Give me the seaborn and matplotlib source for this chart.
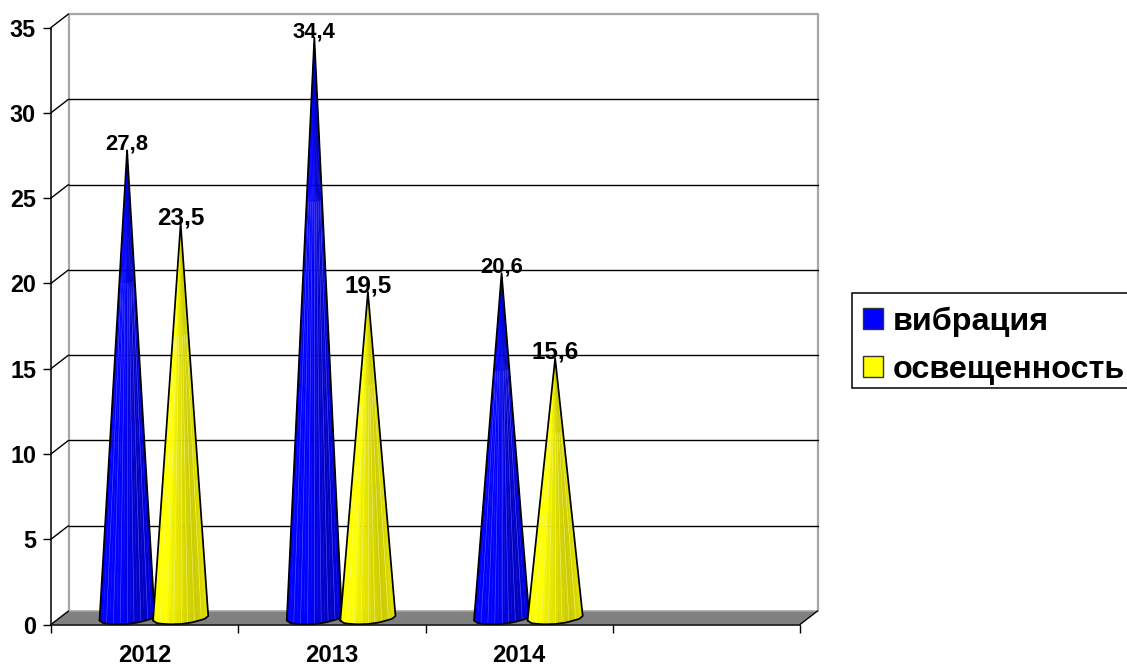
import numpy as np
import pandas as pd
import matplotlib
matplotlib.use("Agg")
import matplotlib.pyplot as plt
from matplotlib.patches import Patch, Rectangle
import seaborn as sns

years = ["2012", "2013", "2014"]
vibration = [27.8, 34.4, 20.6]
lighting = [23.5, 19.5, 15.6]
series_names = ["вибрация", "освещенность"]
y_ticks = [0, 5, 10, 15, 20, 25, 30, 35]

df = pd.DataFrame({
    "year": years * 2,
    "value": vibration + lighting,
    "series": [series_names[0]] * 3 + [series_names[1]] * 3,
})

sns.set_theme(style="white")
plt.rcParams["font.family"] = ["Liberation Sans", "DejaVu Sans"]
plt.rcParams["font.weight"] = "bold"

W, H = 1127, 666
fig = plt.figure(figsize=(W / 100, H / 100), dpi=100)
ax = fig.add_axes([51 / W, 1 - 624.5 / H, 749 / W, 597 / H])

# bars only give the positions, the cones get drawn over them
sns.barplot(data=df, x="year", y="value", hue="series", order=years + [""],
            hue_order=series_names, width=0.572, gap=0, legend=False, ax=ax,
            palette=["#0000ff", "#ffff00"])
ax.set_xlim(-0.5, 3.5)
ax.set_ylim(0, 35)

px_x = 4 / 749          # one pixel in x data units
px_y = 35 / 597         # one pixel in y data units
dx = 17.5 * px_x        # depth of the fake 3d box
dy = 13.5 * px_y

# walls and floor
ax.fill([-0.5, 3.5, 3.5 + dx, -0.5 + dx], [0, 0, dy, dy], color="#808080",
        lw=0, clip_on=False, zorder=1)
wall = "#a6a6a6"
ax.plot([-0.5 + dx, -0.5 + dx, 3.5 + dx, 3.5 + dx], [dy, 35 + dy, 35 + dy, dy],
        color=wall, lw=1.6, clip_on=False, zorder=1)
ax.plot([-0.5 + dx, 3.5 + dx], [dy, dy], color=wall, lw=1.2, clip_on=False, zorder=1)
for t in y_ticks:
    ax.plot([-0.5, -0.5 + dx], [t, t + dy], color="black", lw=1, clip_on=False, zorder=2)
    if 0 < t < 35:
        ax.plot([-0.5 + dx, 3.5 + dx], [t + dy, t + dy], color="black", lw=1,
                clip_on=False, zorder=2)
ax.plot([3.5, 3.5 + dx], [0, dy], color="black", lw=1, clip_on=False, zorder=2)

# px above the axis along the base of a cone, left to right
base_t = [0, 0.03, 0.1, 0.3, 0.5, 0.7, 0.9, 0.98, 1.0]
base_up = [4, 2, 1, 0.2, 0.5, 2, 5, 6.5, 8.5]
shift = 9.25 * px_x


def draw_cone(bar, shades, seam, z, label_size):
    cx = bar.get_x() + bar.get_width() / 2 + shift
    half = bar.get_width() * 0.515
    top = bar.get_height()
    ts = np.linspace(0, 1, len(shades) + 1)
    xs = cx - half + 2 * half * ts
    ys = np.interp(ts, base_t, base_up) * px_y
    for i, c in enumerate(shades):
        ax.fill([xs[i], xs[i + 1], cx], [ys[i], ys[i + 1], top], color=c, lw=0.3,
                edgecolor=c, zorder=z)
        if i > 0 and i % 2 == 0:
            # seams fade out before they bunch up at the tip
            ax.plot([xs[i], xs[i] + (cx - xs[i]) * 0.72], [ys[i], ys[i] + (top - ys[i]) * 0.72],
                    color=seam, lw=0.5, alpha=0.7, zorder=z)
    ax.plot(list(xs) + [cx, xs[0]], list(ys) + [top, ys[0]], color="black", lw=1.25,
            solid_joinstyle="round", zorder=z + 0.1)
    ax.annotate(f"{top}".replace(".", ","), (cx, top), xytext=(0, 4.3),
                textcoords="offset points", ha="center", va="center",
                fontsize=label_size, fontweight="bold", color="black", zorder=10)


blue_shades = ["#0000ff"] * 7 + ["#0000ee", "#0000e6", "#0000dc", "#0000d2", "#0000c8",
                                 "#0000c0", "#0000c8", "#0000d4", "#0000e0"]
yellow_shades = ["#ffff00"] * 4 + ["#f6f600", "#eeee00", "#e8e800", "#e4e400", "#dede00",
                                   "#d8d800", "#d4d400", "#d0d000", "#cccc00", "#d0d000",
                                   "#d8d800", "#e0e000"]
for k, cont in enumerate(ax.containers):
    for bar in cont:
        bar.set_visible(False)
        if bar.get_height() > 0:
            if k == 0:
                draw_cone(bar, blue_shades, "#5a5aff", 4, 15.8)
            else:
                draw_cone(bar, yellow_shades, "#f8f880", 5, 17.5)

# axes
for side in ["top", "right"]:
    ax.spines[side].set_visible(False)
for side in ["left", "bottom"]:
    ax.spines[side].set_color("black")
    ax.spines[side].set_linewidth(1.1)
    ax.spines[side].set_zorder(3)
ax.set_xlabel("")
ax.set_ylabel("")
ax.set_yticks(y_ticks)
ax.set_yticklabels([str(t) for t in y_ticks], fontsize=16.8, fontweight="bold", color="black")
ax.tick_params(axis="y", left=True, length=5.8, width=1, pad=5, color="black")
ax.set_xticks([-0.5, 0.5, 1.5, 2.5, 3.5])
ax.set_xticklabels([])
ax.tick_params(axis="x", which="major", bottom=True, length=5.8, width=1, color="black")
ax.set_xticks([0, 1, 2], years, minor=True)
ax.tick_params(axis="x", which="minor", bottom=False, length=0, pad=14, labelsize=17.2,
               labelcolor="black")
for lab in ax.get_xticklabels(minor=True):
    lab.set_fontweight("bold")

# legend box is drawn by hand, the legend frame came out too tall
ax.add_patch(Rectangle((852 / W, 1 - 388 / H), 280 / W, 95 / H, transform=fig.transFigure,
                       facecolor="white", edgecolor="black", lw=1.1, clip_on=False, zorder=4))
fs = 23.3
handles = [Patch(facecolor="#0000ff", edgecolor="#333333", lw=1),
           Patch(facecolor="#ffff00", edgecolor="#333333", lw=1)]
leg = ax.legend(handles, series_names, loc="upper left",
                bbox_to_anchor=(852 / W, 1 - 296 / H), bbox_transform=fig.transFigure,
                borderaxespad=0, fontsize=fs, frameon=False,
                handlelength=0.62, handleheight=0.62,
                handletextpad=0.31, labelspacing=0.56, borderpad=0.33)
leg.set_zorder(6)
for txt in leg.get_texts():
    txt.set_color("black")
    txt.set_fontweight("bold")

fig.savefig("out.png", dpi=100)
